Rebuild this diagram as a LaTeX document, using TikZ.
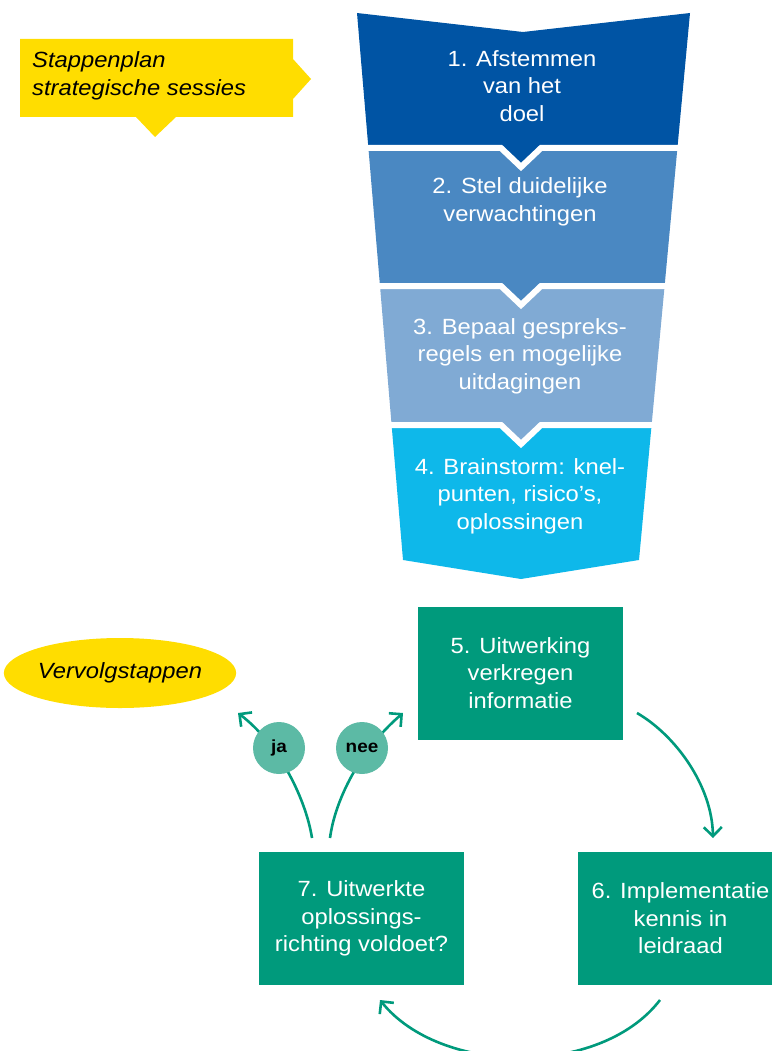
\documentclass[tikz,border=0pt]{standalone}
\usepackage{fontspec}
\setmainfont{Liberation Sans}[FakeStretch=1.08]
\usetikzlibrary{arrows.meta,shapes.geometric}
\definecolor{bandA}{RGB}{0,84,164}
\definecolor{bandB}{RGB}{74,136,194}
\definecolor{bandC}{RGB}{128,170,212}
\definecolor{bandD}{RGB}{14,184,234}
\definecolor{teal}{RGB}{0,154,124}
\definecolor{tealL}{RGB}{92,186,165}
\definecolor{yel}{RGB}{255,221,0}
\tikzset{
  bandtext/.style={text=white, align=center, inner sep=0pt, font=\fontsize{22}{27.5}\selectfont},
  greenbox/.style={fill=teal, text=white, align=center, inner sep=0pt, minimum width=205pt, minimum height=133pt, font=\fontsize{22}{27.5}\selectfont},
  answer/.style={circle, fill=tealL, inner sep=0pt, minimum size=52pt, font=\fontsize{17.5}{20}\selectfont\bfseries},
  flow/.style={draw=teal, line width=2.6pt, -{Straight Barb[length=9pt,width=18pt]}},
  sep/.style={draw=white, line width=6pt}
}
\begin{document}
\begin{tikzpicture}[x=1pt,y=-1pt]
\useasboundingbox (0,0) rectangle (771,1051);
% funnel bands
\fill[bandA] (357,13) -- (523,32) -- (690,13) -- (677.4,148) -- (541,148) -- (521,167) -- (501,148) -- (368.4,148) -- cycle;
\fill[bandB] (368.4,148) -- (501,148) -- (521,167) -- (541,148) -- (677.4,148) -- (664.6,286) -- (541,286) -- (521,305) -- (501,286) -- (380,286) -- cycle;
\fill[bandC] (380,286) -- (501,286) -- (521,305) -- (541,286) -- (664.6,286) -- (651.6,425) -- (541,425) -- (521,444) -- (501,425) -- (391.6,425) -- cycle;
\fill[bandD] (391.6,425) -- (501,425) -- (521,444) -- (541,425) -- (651.6,425) -- (639,560) -- (521,579) -- (403,560) -- cycle;
\draw[sep] (364,148) -- (501,148) -- (521,167) -- (541,148) -- (682,148);
\draw[sep] (376,286) -- (501,286) -- (521,305) -- (541,286) -- (669,286);
\draw[sep] (387,425) -- (501,425) -- (521,444) -- (541,425) -- (656,425);
\node[bandtext] (t1) at (522,86) {1. Afstemmen\\van het\\doel};
\node[bandtext] (t2) at (520,202) {2. Stel duidelijke\\verwachtingen};
\node[bandtext] (t3) at (520,356) {3. Bepaal gespreks-\\regels en mogelijke\\uitdagingen};
\node[bandtext] (t4) at (520,496) {4. Brainstorm: knel-\\punten, risico’s,\\oplossingen};
% yellow callout
\fill[yel] (20,39) -- (293,39) -- (293,59) -- (311,79) -- (293,99) -- (293,117) -- (176,117) -- (155,137) -- (136,117) -- (20,117) -- cycle;
\node[anchor=west, align=left, inner sep=0pt, font=\fontsize{22}{27.5}\selectfont\itshape] (title) at (32,76) {Stappenplan\\strategische sessies};
% ellipse
\node[ellipse, fill=yel, minimum width=220pt, minimum height=70pt, inner sep=0pt, font=\fontsize{22}{27.5}\selectfont\itshape] (vervolg) at (120,673) {Vervolgstappen};
% green boxes
\node[greenbox] (s5) at (520.5,673) {5. Uitwerking\\verkregen\\informatie};
\node[greenbox] (s6) at (680.5,918.5) {6. Implementatie\\kennis in\\leidraad};
\node[greenbox] (s7) at (361.5,918.5) {7. Uitwerkte\\oplossings-\\richting voldoet?};
% connector ends
\coordinate (a5) at (637,713);
\coordinate (a6in) at (713,838);
\coordinate (a6out) at (660,1000);
\coordinate (a7in) at (380,1000);
\coordinate (jaS) at (312,838);
\coordinate (jaE) at (238,713);
\coordinate (neeS) at (330,838);
\coordinate (neeE) at (403,713);
\draw[flow] (a5) .. controls (675,735) and (712,785) .. (a6in);
\draw[flow] (a6out) .. controls (600,1078) and (440,1075) .. (a7in);
\draw[flow] (jaS) .. controls (306,800) and (280,745) .. (jaE);
\draw[flow] (neeS) .. controls (335,800) and (360,750) .. (neeE);
\node[answer] (ja) at (279,748) {ja};
\node[answer] (nee) at (362,748) {nee};
\end{tikzpicture}
\end{document}
